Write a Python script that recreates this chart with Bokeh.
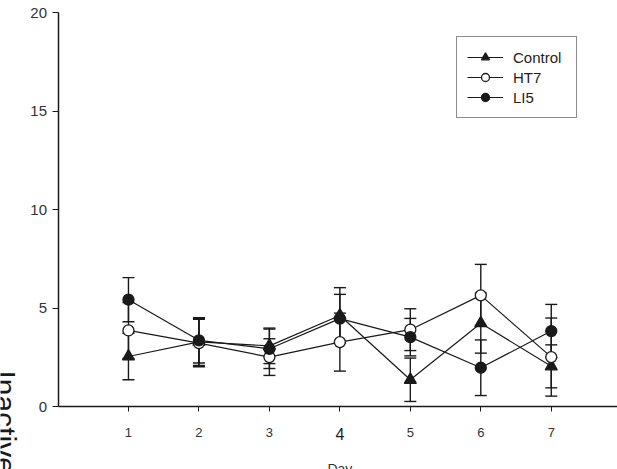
import math
from bokeh.plotting import figure
from bokeh.models import (ColumnDataSource, Whisker, TeeHead, Legend, LegendItem,
                          Label, FixedTicker, Range1d)
from bokeh.embed import file_html
from bokeh.resources import INLINE

# Inactive lever presses per day, mean and SEM for each group
days = [1, 2, 3, 4, 5, 6, 7]
control = [2.56, 3.30, 3.10, 4.64, 1.38, 4.25, 2.06]
control_err = [1.18, 1.20, 0.90, 1.41, 1.10, 1.52, 1.09]
ht7 = [3.88, 3.24, 2.53, 3.29, 3.92, 5.66, 2.53]
ht7_err = [1.42, 1.20, 0.93, 1.47, 1.06, 1.57, 1.98]
li5 = [5.44, 3.38, 2.95, 4.48, 3.54, 1.99, 3.85]
li5_err = [1.12, 1.15, 1.00, 1.23, 0.95, 1.41, 1.35]

y_ticks = [0, 5, 10, 15, 20]
x_ticks = days

FONT = "Liberation Sans"
INK = "#1a1a1a"

# the data frame fills the whole canvas; the axes sit at fixed data positions
p = figure(width=617, height=469, output_backend="svg", toolbar_location=None,
           x_range=Range1d(-0.816, 7.94), y_range=Range1d(-3.17, 20.61),
           min_border_left=0, min_border_right=0, min_border_top=0,
           min_border_bottom=0)
p.title.visible = False
p.outline_line_color = None
p.xgrid.visible = False
p.ygrid.visible = False

for ax in (p.xaxis[0], p.yaxis[0]):
    ax.fixed_location = 0
    ax.axis_line_color = INK
    ax.axis_line_width = 1.5
    ax.major_tick_line_color = INK
    ax.major_tick_line_width = 1
    ax.minor_tick_line_color = None
    ax.major_tick_in = 0
    ax.major_label_text_font = FONT
    ax.major_label_text_color = "#333333"

p.yaxis.bounds = (0, 20)
p.yaxis.ticker = FixedTicker(ticks=y_ticks)
p.yaxis.major_tick_out = 6
p.yaxis.major_label_standoff = 5
p.yaxis.major_label_text_font_size = "15px"

p.xaxis.bounds = (0, 8)
p.xaxis.ticker = FixedTicker(ticks=x_ticks)
p.xaxis.major_label_overrides = {4: ""}
p.xaxis.major_tick_out = 5
p.xaxis.major_label_standoff = 16
p.xaxis.major_label_text_font_size = "13px"

series = [
    ("Control", control, control_err, "triangle", INK),
    ("HT7", ht7, ht7_err, "circle", "white"),
    ("LI5", li5, li5_err, "circle", INK),
]

items = []
for name, vals, errs, marker, fill in series:
    src = ColumnDataSource(dict(
        x=days, y=vals,
        upper=[v + e for v, e in zip(vals, errs)],
        lower=[v - e for v, e in zip(vals, errs)],
    ))
    w = Whisker(source=src, base="x", upper="upper", lower="lower",
                line_color=INK, line_width=1.4,
                upper_head=TeeHead(size=12, line_color=INK, line_width=1.4),
                lower_head=TeeHead(size=12, line_color=INK, line_width=1.4))
    p.add_layout(w)
    ln = p.line("x", "y", source=src, line_color=INK, line_width=1.2)
    sc = p.scatter("x", "y", source=src, marker=marker, size=11 if marker == "circle" else 12,
                   fill_color=fill, line_color=INK, line_width=1.3)
    items.append(LegendItem(label=name, renderers=[ln, sc]))

legend = Legend(items=items, location=(456, 351), orientation="vertical",
                glyph_width=36, glyph_height=20, spacing=0, padding=10, margin=0,
                label_standoff=10, label_width=53, label_height=20,
                label_text_font=FONT, label_text_font_size="15px",
                label_text_color="#222222",
                border_line_color=INK, border_line_width=1.3,
                background_fill_color="white", background_fill_alpha=1)
p.add_layout(legend, "center")

# larger tick label for day 4
p.add_layout(Label(x=4, y=-1.35, text="4", text_font=FONT, text_font_size="16px",
                   text_color=INK, text_align="center", text_baseline="middle"))

# axis titles
p.add_layout(Label(x=4, y=-2.72, text="Day", text_font=FONT, text_font_size="14px",
                   text_color="#333333", text_align="center", text_baseline="top"))
p.add_layout(Label(x=-0.745, y=1.85, text="Inactive lever presses", text_font=FONT,
                   text_font_size="30px", text_color=INK, angle=-math.pi / 2,
                   text_align="left", text_baseline="alphabetic"))

open("out.html", "w").write(file_html(p, INLINE))
